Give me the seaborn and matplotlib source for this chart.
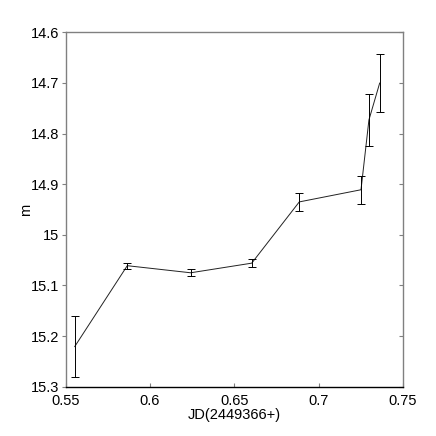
import matplotlib
matplotlib.use("Agg")
import matplotlib.pyplot as plt
import matplotlib.lines as mlines
import seaborn as sns
import pandas as pd

# Dados
jd = [0.5553, 0.5865, 0.6241, 0.6603, 0.6885, 0.7251, 0.7298, 0.7362]
mag = [15.221, 15.061, 15.075, 15.056, 14.935, 14.911, 14.773, 14.700]
mag_err = [0.060, 0.006, 0.0066, 0.008, 0.017, 0.028, 0.052, 0.057]

xticks = [0.55, 0.6, 0.65, 0.7, 0.75]
xtick_labels = ["0.55", "0.6", "0.65", "0.7", "0.75"]
yticks = [14.6, 14.7, 14.8, 14.9, 15.0, 15.1, 15.2, 15.3]
ytick_labels = ["14.6", "14.7", "14.8", "14.9", "15", "15.1", "15.2", "15.3"]

df = pd.DataFrame({"jd": jd, "m": mag, "err": mag_err})

sns.set_style("white")
plt.rcParams['font.family'] = ['Liberation Sans', 'DejaVu Sans']
plt.rcParams['text.color'] = 'black'
plt.rcParams['axes.labelcolor'] = 'black'
plt.rcParams['xtick.color'] = 'black'
plt.rcParams['ytick.color'] = 'black'

fig = plt.figure(figsize=(4.36, 4.36), dpi=100)
ax = fig.add_axes([0.1507, 0.1131, 0.9243 - 0.1507, 0.9259 - 0.1131])

sns.lineplot(data=df, x="jd", y="m", ax=ax, color="#222222", linewidth=0.7,
             sort=False, estimator=None)
ax.errorbar(df["jd"], df["m"], yerr=df["err"], fmt="none", ecolor="black",
            elinewidth=0.7, capsize=2.8, capthick=0.7)

ax.set_xlim(0.55, 0.75)
ax.set_ylim(15.3, 14.6)
ax.set_xticks(xticks)
ax.set_xticklabels(xtick_labels)
ax.set_yticks(yticks)
ax.set_yticklabels(ytick_labels)

for side in ["left", "top", "right"]:
    ax.spines[side].set_color("#808080")
    ax.spines[side].set_linewidth(1.0)
ax.spines["bottom"].set_color("black")
ax.spines["bottom"].set_linewidth(1.0)

ax.tick_params(axis="y", which="both", direction="in", length=3, width=0.8,
               color="#808080", left=True, right=True, labelsize=10.5, pad=5)
ax.tick_params(axis="x", which="both", direction="in", length=3, width=0.8,
               color="#808080", bottom=True, labelsize=10.5, pad=5)
# ticks da esquerda para fora, da direita para dentro
for t in ax.yaxis.get_major_ticks():
    t.tick1line.set_marker(mlines.TICKLEFT)

ax.set_xlabel("JD(2449366+)", fontsize=10.5, labelpad=0)
ax.set_ylabel("m", fontsize=10.5)
ax.yaxis.set_label_coords(-0.098, 0.5)

fig.savefig("out.png", dpi=100)
